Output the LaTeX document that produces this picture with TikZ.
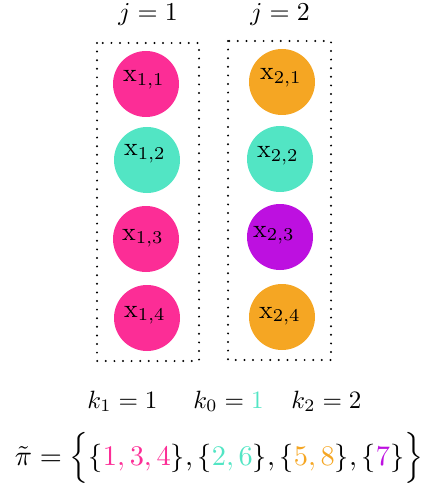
\documentclass[tikz,border=0pt]{standalone}
\usepackage{amsmath}
\usepackage{graphicx}
\definecolor{cpink}{HTML}{FC2D96}
\definecolor{cteal}{HTML}{52E5C4}
\definecolor{corange}{HTML}{F5A623}
\definecolor{cpurple}{HTML}{BD10E0}
\newcommand{\scA}[1]{\scalebox{2.58}{#1}}
\newcommand{\scK}[1]{\scalebox{2.5}{#1}}
\newcommand{\scP}[1]{\scalebox{2.84}{#1}}
\begin{document}
\begin{tikzpicture}[x=1pt,y=-1pt,
  ball/.style={circle,minimum size=66pt,inner sep=0pt},
  dotbox/.style={draw, line width=2.2pt, dash pattern=on 0pt off 8.6pt, line cap=round},
  lab/.style={inner sep=0pt, anchor=base west},
  hdr/.style={inner sep=0pt, anchor=base}]
\useasboundingbox (0,0) rectangle (429,486);
% boxes
\draw[dotbox] (97,43) rectangle (199,361);
\draw[dotbox] (228,41) rectangle (331,360);
% column headers
\node[hdr] (j1) at (148,21) {\scA{$j=1$}};
\node[hdr] (j2) at (280,21) {\scA{$j=2$}};
% circles column 1
\node[ball, fill=cpink] (c11) at (146,84) {};
\node[ball, fill=cteal] (c12) at (147,160) {};
\node[ball, fill=cpink] (c13) at (146,239) {};
\node[ball, fill=cpink] (c14) at (147,318) {};
% circles column 2
\node[ball, fill=corange] (c21) at (282,82) {};
\node[ball, fill=cteal] (c22) at (280,159) {};
\node[ball, fill=cpurple] (c23) at (280,237) {};
\node[ball, fill=corange] (c24) at (282,317) {};
% labels
\node[lab] (t11) at (123,82) {\scA{$\mathrm{x}_{1,1}$}};
\node[lab] (t12) at (124,156) {\scA{$\mathrm{x}_{1,2}$}};
\node[lab] (t13) at (122,240) {\scA{$\mathrm{x}_{1,3}$}};
\node[lab] (t14) at (124,317) {\scA{$\mathrm{x}_{1,4}$}};
\node[lab] (t21) at (260,80) {\scA{$\mathrm{x}_{2,1}$}};
\node[lab] (t22) at (257,158) {\scA{$\mathrm{x}_{2,2}$}};
\node[lab] (t23) at (253,237) {\scA{$\mathrm{x}_{2,3}$}};
\node[lab] (t24) at (259,318) {\scA{$\mathrm{x}_{2,4}$}};
% k values
\node[hdr] (k1) at (122.5,408) {\scK{$k_1=1$}};
\node[hdr] (k0) at (228.5,408) {\scK{$k_0=\textcolor{cteal}{1}$}};
\node[hdr] (k2) at (326.5,408) {\scK{$k_2=2$}};
% partition
\node[hdr] (pi) at (219,465) {\scP{$\tilde{\pi}=\Big\{\{\textcolor{cpink}{1,3,4}\},\{\textcolor{cteal}{2,6}\},\{\textcolor{corange}{5,8}\},\{\textcolor{cpurple}{7}\}\Big\}$}};
\end{tikzpicture}
\end{document}
